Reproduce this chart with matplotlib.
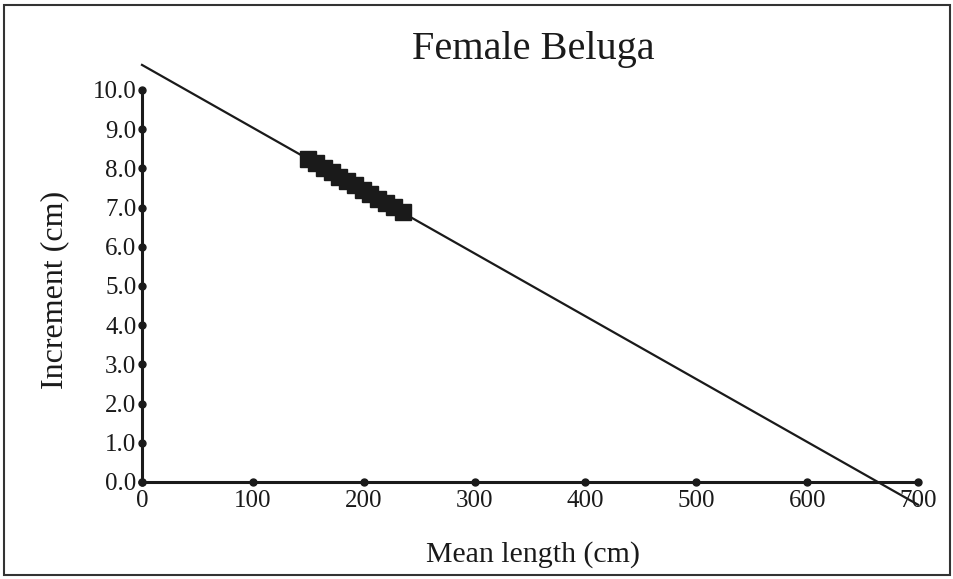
import matplotlib
matplotlib.use("Agg")
import matplotlib.pyplot as plt
from matplotlib.patches import Rectangle

plt.rcParams['font.family'] = ['Liberation Serif', 'DejaVu Serif']

# Data
mean_length = [150, 157, 164, 171, 178, 185, 192, 199, 206, 213, 220, 227, 235]
increment = [8.24, 8.13, 8.02, 7.90, 7.79, 7.68, 7.57, 7.46, 7.34, 7.23, 7.12, 7.01, 6.88]
fit_x = [0, 700]
fit_y = [10.64, -0.58]
x_ticks = [0, 100, 200, 300, 400, 500, 600, 700]
y_ticks = [0, 1, 2, 3, 4, 5, 6, 7, 8, 9, 10]
y_tick_labels = ["0.0", "1.0", "2.0", "3.0", "4.0", "5.0", "6.0", "7.0", "8.0", "9.0", "10.0"]

W, H = 954, 579
fig = plt.figure(figsize=(W / 100, H / 100), dpi=100)

# axes in pixel coords
x0_px, x700_px = 142, 918
y0_px, y10_px = 97, 489  # from bottom
xlim = (0, 710)
ylim = (-0.7, 10.75)
ppx = (x700_px - x0_px) / 700
ppy = (y10_px - y0_px) / 10
left = x0_px + (xlim[0]) * ppx
right = x0_px + xlim[1] * ppx
bottom = y0_px + ylim[0] * ppy
top = y0_px + ylim[1] * ppy
ax = fig.add_axes([left / W, bottom / H, (right - left) / W, (top - bottom) / H])
ax.set_xlim(*xlim)
ax.set_ylim(*ylim)

for s in ['top', 'right']:
    ax.spines[s].set_visible(False)
ax.spines['bottom'].set_position(('data', 0))
ax.spines['left'].set_position(('data', 0))
ax.spines['left'].set_bounds(0, 10)
ax.spines['bottom'].set_bounds(0, 700)
for s in ['left', 'bottom']:
    ax.spines[s].set_linewidth(2.2)
    ax.spines[s].set_color('#1a1a1a')

ax.set_xticks(x_ticks)
ax.set_xticklabels([str(t) for t in x_ticks])
ax.set_yticks(y_ticks)
ax.set_yticklabels(y_tick_labels)
ax.tick_params(length=0, labelsize=18, colors='#1a1a1a')
ax.tick_params(axis='x', pad=6)
ax.tick_params(axis='y', pad=4)

# dot tick marks
ax.plot([0] * len(y_ticks), y_ticks, 'o', color='#1a1a1a', ms=5, clip_on=False, zorder=5)
ax.plot(x_ticks, [0] * len(x_ticks), 'o', color='#1a1a1a', ms=5, clip_on=False, zorder=5)

# fit line and data
ax.plot(fit_x, fit_y, color='#1a1a1a', lw=1.6, clip_on=False, zorder=3)
ax.plot(mean_length, increment, 's', color='#1a1a1a', ms=12, clip_on=False, zorder=4)

fig.text(55 / W, 1 - 290 / H, "Increment (cm)", fontsize=23, rotation=90,
         ha='center', va='center', color='#1a1a1a')
fig.text(533 / W, 1 - 555 / H, "Mean length (cm)", fontsize=21.5, ha='center', va='center', color='#1a1a1a')
fig.text(533 / W, 1 - 50 / H, "Female Beluga", fontsize=29, ha='center', va='center', color='#1a1a1a')

fig.patches.append(Rectangle((4 / W, 4 / H), 946 / W, 570 / H, transform=fig.transFigure,
                             fill=False, lw=1.5, edgecolor='#333333'))

fig.savefig("out.png", dpi=100)
